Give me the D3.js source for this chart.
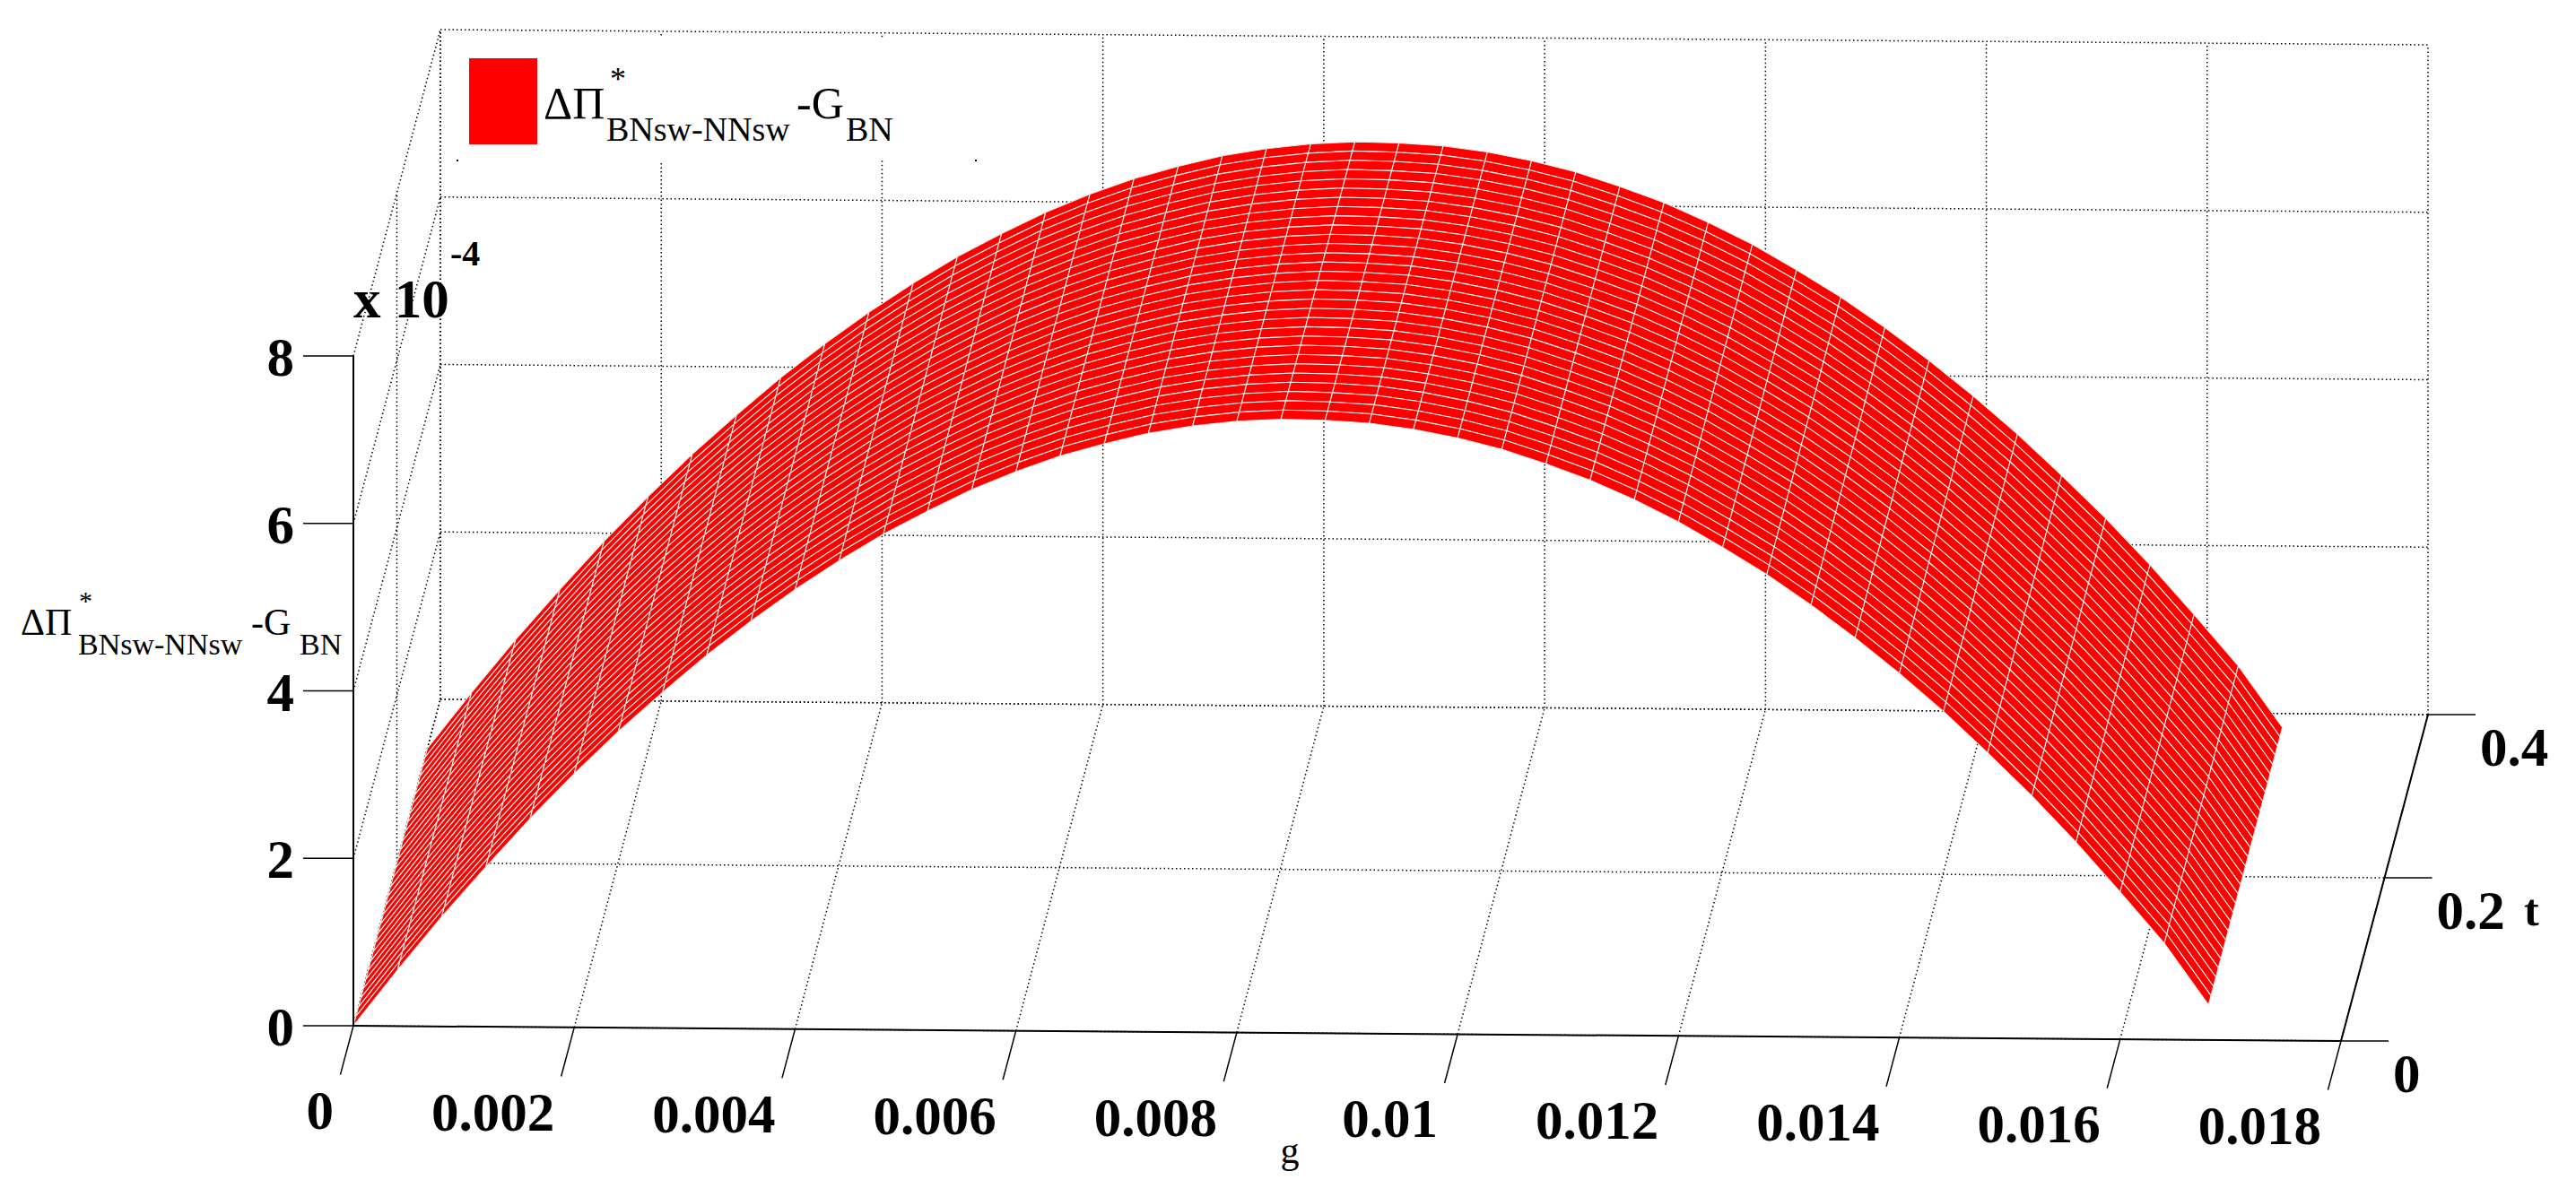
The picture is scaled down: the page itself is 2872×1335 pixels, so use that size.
<!DOCTYPE html>
<html><head><meta charset="utf-8">
<script src="https://cdn.jsdelivr.net/npm/d3@7"></script>
<style>body{margin:0;background:#fff}</style>
</head><body>
<svg id="c" width="2872" height="1335"></svg>
<script>
// ---- data ----
const gTicks = [0,0.002,0.004,0.006,0.008,0.01,0.012,0.014,0.016,0.018];
const gTickLabels = ["0","0.002","0.004","0.006","0.008","0.01","0.012","0.014","0.016","0.018"];
const tTicks = [0,0.2,0.4];
const tTickLabels = ["0","0.2","0.4"];
const zTicks = [0,2,4,6,8];           // x 10^-4
const zTickLabels = ["0","2","4","6","8"];
// surface sample positions along g (step 0.0004) and values (x 10^-4)
const gSamples = d3.range(43).map(k => +(k*0.0004).toFixed(4));
const zValues = [0,0.67,1.31,1.91,2.49,3.03,3.54,4.01,4.46,4.87,5.25,5.60,5.92,6.20,6.46,6.68,6.87,7.02,7.15,7.24,7.30,7.33,7.32,7.29,7.22,7.12,6.99,6.82,6.63,6.40,6.14,5.84,5.52,5.16,4.77,4.35,3.90,3.41,2.90,2.35,1.76,1.15,0.42];
const tSamples = d3.range(31).map(i => i*0.34/30);

// ---- projection via scales ----
const O = [394,1144];
const gx = d3.scaleLinear().domain([0,0.018]).range([0,2216]);
const gy = d3.scaleLinear().domain([0,0.018]).range([0,17]);
const tx = d3.scaleLinear().domain([0,0.4]).range([0,97]);
const ty = d3.scaleLinear().domain([0,0.4]).range([0,-364]);
const zy = d3.scaleLinear().domain([0,8]).range([0,-747]);
const P = (g,t,z) => [O[0]+gx(g)+tx(t), O[1]+gy(g)+ty(t)+zy(z)];

const svg = d3.select("#c");
const line = d3.line();
const dotted = (a,b) => svg.append("path").attr("d",line([a,b])).attr("stroke","#000")
  .attr("stroke-width",1.5).attr("stroke-dasharray","1.5,3").attr("fill","none");
const solid = (a,b,w=2) => svg.append("path").attr("d",line([a,b])).attr("stroke","#000")
  .attr("stroke-width",w).attr("fill","none");

const gMax = 0.018, tMax = 0.4, zMax = 8;
// back wall (t = tMax)
gTicks.forEach(g => dotted(P(g,tMax,0), P(g,tMax,zMax)));
zTicks.forEach(z => dotted(P(0,tMax,z), P(gMax,tMax,z)));
// left wall (g = 0)
zTicks.forEach(z => dotted(P(0,0,z), P(0,tMax,z)));
tTicks.forEach(t => dotted(P(0,t,0), P(0,t,zMax)));
// floor
gTicks.forEach(g => dotted(P(g,0,0), P(g,tMax,0)));
tTicks.forEach(t => dotted(P(0,t,0), P(gMax,t,0)));

// legend background
svg.append("rect").attr("x",510).attr("y",42).attr("width",578).attr("height",137).attr("fill","#fff");
svg.append("rect").attr("x",509).attr("y",178).attr("width",2).attr("height",2).attr("fill","#000");
svg.append("rect").attr("x",1087).attr("y",178).attr("width",2).attr("height",2).attr("fill","#000");

// surface
const surf = svg.append("g");
for (let i = tSamples.length-2; i >= 0; i--) {
  for (let k = 0; k < gSamples.length-1; k++) {
    const pts = [P(gSamples[k],tSamples[i],zValues[k]), P(gSamples[k+1],tSamples[i],zValues[k+1]),
                 P(gSamples[k+1],tSamples[i+1],zValues[k+1]), P(gSamples[k],tSamples[i+1],zValues[k])];
    surf.append("path").attr("d", line(pts)+"Z").attr("fill","#ff0000")
      .attr("stroke","#ececec").attr("stroke-width",1.1).attr("stroke-linejoin","bevel");
  }
}

// axes
solid(P(0,0,0), P(0,0,zMax));
solid(P(0,0,0), P(gMax,0,0));
solid(P(gMax,0,0), P(gMax,tMax,0));
const font = "'Liberation Serif','Times New Roman',serif";
gTicks.forEach((g,i) => {
  const a = P(g,0,0), b = P(g,-0.06,0);
  solid(a,b,1.5);
  svg.append("text").attr("x",a[0]-22).attr("y",a[1]+115).attr("text-anchor","end")
    .attr("font-family",font).attr("font-weight","bold").attr("font-size",61).text(gTickLabels[i]);
});
zTicks.forEach((z,i) => {
  const a = P(0,0,z);
  solid(a,[a[0]-56,a[1]],1.5);
  svg.append("text").attr("x",a[0]-66).attr("y",a[1]+22).attr("text-anchor","end")
    .attr("font-family",font).attr("font-weight","bold").attr("font-size",61).text(zTickLabels[i]);
});
tTicks.forEach((t,i) => {
  const a = P(gMax,t,0);
  solid(a,[a[0]+53,a[1]],1.5);
  svg.append("text").attr("x",a[0]+58).attr("y",a[1]+57).attr("text-anchor","start")
    .attr("font-family",font).attr("font-weight","bold").attr("font-size",61).text(tTickLabels[i]);
});
const txt = (x,y,s,size,bold,anchor="start") => svg.append("text").attr("x",x).attr("y",y)
  .attr("font-family",font).attr("font-size",size).attr("font-weight",bold?"bold":"normal")
  .attr("text-anchor",anchor).text(s);
txt(2814,1032,"t",50,true);
txt(1438,1297,"g",42,false,"middle");
txt(394,354,"x 10",61,true);
txt(502,296,"-4",40,true);
// z axis label
txt(23,708,"ΔΠ",42,false);
txt(88,680,"*",30,false);
txt(87,730,"BNsw-NNsw",34,false);
txt(280,708,"-G",42,false);
txt(334,730,"BN",34,false);
// legend
svg.append("rect").attr("x",523).attr("y",65).attr("width",76).attr("height",96).attr("fill","#ff0000");
txt(606,132,"ΔΠ",50,false);
txt(680,100,"*",36,false);
txt(676,157,"BNsw-NNsw",38,false);
txt(888,132,"-G",50,false);
txt(943,157,"BN",38,false);
</script>
</body></html>
